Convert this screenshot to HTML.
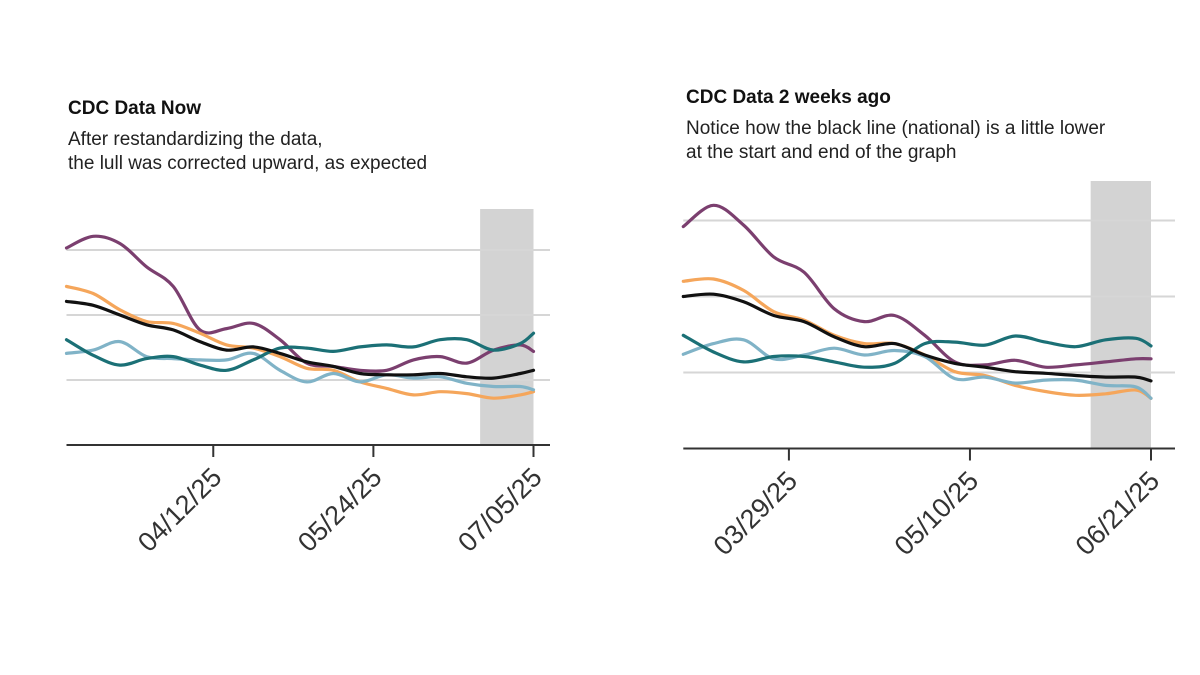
<!DOCTYPE html>
<html><head><meta charset="utf-8">
<style>
body{margin:0;background:#fff;}
svg{display:block;font-family:"Liberation Sans",sans-serif;}
</style></head>
<body>
<svg id="svg" width="1200" height="675">
<g>
<text x="68" y="114" font-size="19" font-weight="bold" fill="#111">CDC Data Now</text>
<text x="68" y="145" font-size="19" fill="#222">After restandardizing the data,</text>
<text x="68" y="169" font-size="19" fill="#222">the lull was corrected upward, as expected</text>
</g>
<g>
<text x="686" y="103" font-size="19" font-weight="bold" fill="#111">CDC Data 2 weeks ago</text>
<text x="686" y="134" font-size="19" fill="#222">Notice how the black line (national) is a little lower</text>
<text x="686" y="158" font-size="19" fill="#222">at the start and end of the graph</text>
</g>
<g id="left"></g>
<g id="right"></g>
</svg>
<script>
const NS="http://www.w3.org/2000/svg";
const seriesNames=["purple","orange","light-blue","teal","national"];
const seriesColors=["#7b3f6f","#f5a65b","#80b3c7","#1b7076","#111111"];
// Left chart data (weeks from start)
const leftWeeks=[0,1,2,3,4,5,6,7,8,9,10,11,12,13,14,15,16,17,17.5];
const leftTickWeeks=[5.5,11.5,17.5];
const leftTickLabels=["04/12/25","05/24/25","07/05/25"];
const leftPurple=[30.3,32.1,31.0,27.4,24.4,17.7,17.9,18.7,16.2,12.6,12.1,11.5,11.5,13.1,13.6,12.6,14.6,15.4,14.4];
const leftOrange=[24.4,23.3,20.8,19.0,18.7,17.2,15.4,14.9,13.6,11.8,11.5,9.7,8.7,7.7,8.2,7.9,7.2,7.7,8.2];
const leftLightBlue=[14.1,14.6,15.9,13.6,13.3,13.1,13.1,14.1,11.5,9.7,11.0,9.7,10.8,10.3,10.5,9.5,9.0,9.0,8.5];
const leftTeal=[16.2,13.8,12.3,13.3,13.6,12.3,11.5,13.1,14.9,14.9,14.4,15.1,15.4,15.1,16.2,16.2,14.6,15.6,17.2];
const leftNational=[22.1,21.5,20.0,18.5,17.7,15.9,14.6,15.1,14.1,12.8,12.1,11.0,10.8,10.8,11.0,10.5,10.3,11.0,11.5];
// Right chart data
const rightWeeks=[0,1,2,3,4,5,6,7,8,9,10,11,12,13,14,15,15.5];
const rightTickWeeks=[3.5,9.5,15.5];
const rightTickLabels=["03/29/25","05/10/25","06/21/25"];
const rightPurple=[29.2,32.0,29.4,25.2,23.2,18.4,16.7,17.5,14.9,11.4,11.0,11.6,10.7,11.0,11.4,11.8,11.8];
const rightOrange=[22.0,22.3,20.8,18.0,16.9,14.9,13.8,13.8,12.3,10.1,9.6,8.3,7.5,7.0,7.2,7.7,6.6];
const rightLightBlue=[12.4,13.8,14.3,11.8,12.3,13.2,12.3,12.9,12.1,9.2,9.4,8.6,9.0,9.0,8.3,8.1,6.6];
const rightTeal=[14.9,12.7,11.4,12.1,12.1,11.4,10.7,11.2,13.8,14.0,13.6,14.8,14.0,13.4,14.3,14.5,13.5];
const rightNational=[20.0,20.3,19.3,17.5,16.7,14.7,13.4,13.8,12.3,11.2,10.7,10.1,9.9,9.6,9.4,9.4,8.9];
const gridValues=[10,20,30];

function el(tag,attrs,parent){const e=document.createElementNS(NS,tag);for(const k in attrs)e.setAttribute(k,attrs[k]);parent.appendChild(e);return e;}
function smooth(pts){let d="M"+pts[0][0]+","+pts[0][1];for(let i=0;i<pts.length-1;i++){const p0=pts[Math.max(0,i-1)],p1=pts[i],p2=pts[i+1],p3=pts[Math.min(pts.length-1,i+2)];const c1=[p1[0]+(p2[0]-p0[0])/6,p1[1]+(p2[1]-p0[1])/6],c2=[p2[0]-(p3[0]-p1[0])/6,p2[1]-(p3[1]-p1[1])/6];d+="C"+c1.join(",")+" "+c2.join(",")+" "+p2.join(",");}return d;}

function draw(g,cfg){
  const x=w=>cfg.x0+(w-cfg.wMin)/(cfg.wMax-cfg.wMin)*(cfg.x1-cfg.x0);
  const y=v=>cfg.yBase-v*cfg.pxPerUnit;
  const band=el("rect",{x:x(cfg.bandStart),y:cfg.bandTop,width:x(cfg.wMax)-x(cfg.bandStart),height:cfg.yBase-cfg.bandTop,fill:"#d3d3d3"},g);
  
  
  gridValues.forEach(v=>{const l=el("line",{x1:cfg.x0,x2:cfg.gridEnd,y1:y(v),y2:y(v),stroke:"#d6d6d6","stroke-width":2},g);
    
    });
  const ax=el("line",{x1:cfg.x0,x2:cfg.gridEnd,y1:cfg.yBase,y2:cfg.yBase,stroke:"#333","stroke-width":2},g);
  
  
  cfg.tickWeeks.forEach((w,i)=>{const tx=x(w);
    const t=el("line",{x1:tx,x2:tx,y1:cfg.yBase,y2:cfg.yBase+12,stroke:"#333","stroke-width":2},g);
    
    
    const ax0=tx+10, ay0=cfg.yBase+34;
    const lb=el("text",{x:ax0,y:ay0,"text-anchor":"end","font-size":27,fill:"#333",transform:`rotate(-45 ${ax0} ${ay0})`},g);
    lb.textContent=cfg.tickLabels[i];
    
    });
  cfg.series.forEach((s,i)=>{const pts=s.map((v,j)=>[+x(cfg.weeks[j]).toFixed(1),+y(v).toFixed(1)]);
    const p=el("path",{d:smooth(pts),fill:"none",stroke:seriesColors[i],"stroke-width":3.2,"stroke-linejoin":"round","stroke-linecap":"round"},g);
    
    });
}
draw(document.getElementById("left"),{x0:66.5,x1:533.5,wMin:0,wMax:17.5,yBase:445,pxPerUnit:6.5,gridEnd:550,bandStart:15.5,bandTop:209,
  weeks:leftWeeks,tickWeeks:leftTickWeeks,tickLabels:leftTickLabels,series:[leftPurple,leftOrange,leftLightBlue,leftTeal,leftNational]});
draw(document.getElementById("right"),{x0:683.3,x1:1151,wMin:0,wMax:15.5,yBase:448.5,pxPerUnit:7.6,gridEnd:1175,bandStart:13.5,bandTop:181,
  weeks:rightWeeks,tickWeeks:rightTickWeeks,tickLabels:rightTickLabels,series:[rightPurple,rightOrange,rightLightBlue,rightTeal,rightNational]});
</script>
</body></html>
